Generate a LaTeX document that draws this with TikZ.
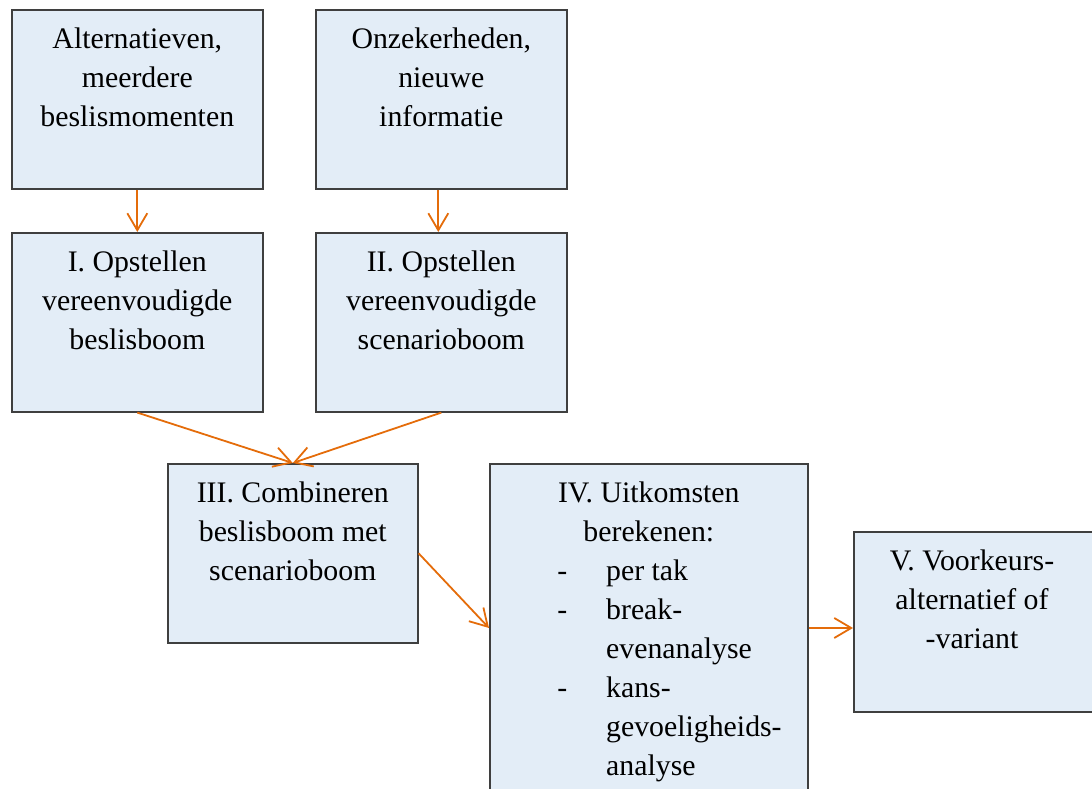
\documentclass[tikz,border=0pt]{standalone}
\usepackage{fontspec}
\setmainfont{Liberation Serif}
\usetikzlibrary{arrows.meta,calc}
\definecolor{boxfill}{HTML}{E3EDF7}
\definecolor{boxline}{HTML}{3F3F3F}
\definecolor{flow}{HTML}{E46C0A}
\begin{document}
\begin{tikzpicture}[x=1pt,y=-1pt,
  box/.style={draw=boxline, fill=boxfill, line width=1.6pt, inner sep=0pt, rectangle, anchor=north west},
  txt/.style={inner sep=0pt, align=center, font=\fontsize{29.8pt}{39pt}\selectfont},
  flowarrow/.style={draw=flow, line width=1.8pt, -{Straight Barb[length=17pt,width=20pt]}}]
\useasboundingbox (0,0) rectangle (1092,789);
\clip (0,0) rectangle (1092,789);

% process boxes
\node[box, minimum width=251pt, minimum height=179pt] (A)   at (11,9) {};
\node[box, minimum width=251pt, minimum height=179pt] (B)   at (315,9) {};
\node[box, minimum width=251pt, minimum height=179pt] (I)   at (11,232) {};
\node[box, minimum width=251pt, minimum height=179pt] (II)  at (315,232) {};
\node[box, minimum width=250pt, minimum height=179pt] (III) at (167,463) {};
\node[box, minimum width=318pt, minimum height=340pt] (IV)  at (489,463) {};
\node[box, minimum width=250pt, minimum height=180pt] (V)   at (853,531) {};

% box texts
\node[txt, anchor=north] (Atext) at ($(A.north)+(0,12)$) {\strut Alternatieven,\\meerdere\\beslismomenten};
\node[txt, anchor=north] (Btext) at ($(B.north)+(0,12)$) {\strut Onzekerheden,\\nieuwe\\informatie};
\node[txt, anchor=north] (Itext) at ($(I.north)+(0,12)$) {\strut I. Opstellen\\vereenvoudigde\\beslisboom};
\node[txt, anchor=north] (IItext) at ($(II.north)+(0,12)$) {\strut II. Opstellen\\vereenvoudigde\\scenarioboom};
\node[txt, anchor=north] (IIItext) at ($(III.north)+(0,12)$) {\strut III. Combineren\\beslisboom met\\scenarioboom};
\node[txt, anchor=north] (IVhead) at ($(IV.north)+(0,12)$) {\strut IV. Uitkomsten\\berekenen:};
\node[txt, align=left, anchor=north west] (IVlist) at ($(IV.north west)+(117,90)$)
  {\strut\llap{-\hspace{39pt}}per tak\\\llap{-\hspace{39pt}}break-\\evenanalyse\\\llap{-\hspace{39pt}}kans-\\gevoeligheids-\\analyse};
\node[txt, anchor=north] (Vtext) at ($(V.north west)+(119,12)$) {\strut V. Voorkeurs-\\alternatief of\\-variant};

% connectors
\draw[flowarrow] (A.south) -- (I.north);
\draw[flowarrow] ([xshift=-3pt]B.south) -- ([xshift=-3pt]II.north);
\draw[flowarrow] (I.south) -- (III.north);
\draw[flowarrow] (II.south) -- (III.north);
\draw[flowarrow] (III.east) -- ($(IV.north west)+(0,165)$);
\draw[flowarrow] ($(IV.north east)+(0,165)$) -- ($(V.north west)+(0,97)$);
\end{tikzpicture}
\end{document}
